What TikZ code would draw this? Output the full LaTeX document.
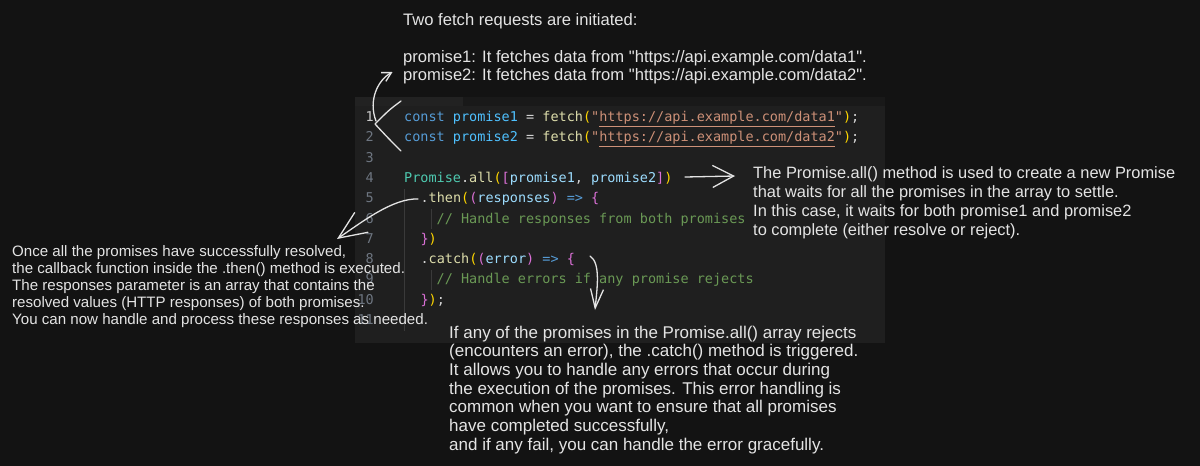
\documentclass[tikz,border=0pt]{standalone}
\usepackage{fontspec}
\setmainfont{Liberation Sans}
\newfontfamily\notefont{Liberation Sans}
\newfontfamily\codefont{DejaVu Sans Mono}
\usetikzlibrary{arrows.meta}
\definecolor{bgc}{HTML}{131313}
\definecolor{panel}{HTML}{1F1F1F}
\definecolor{tabbar}{HTML}{191919}
\definecolor{tabact}{HTML}{222222}
\definecolor{guide}{HTML}{3A3A3A}
\definecolor{kw}{HTML}{569CD6}
\definecolor{cvar}{HTML}{4FC1FF}
\definecolor{var}{HTML}{9CDCFE}
\definecolor{fn}{HTML}{DCDCAA}
\definecolor{str}{HTML}{CE9178}
\definecolor{cls}{HTML}{4EC9B0}
\definecolor{cmt}{HTML}{6A9955}
\definecolor{brA}{HTML}{FFD700}
\definecolor{brB}{HTML}{DA70D6}
\definecolor{plain}{HTML}{D4D4D4}
\definecolor{lnum}{HTML}{6E7681}
\definecolor{lnact}{HTML}{CCCCCC}
\definecolor{ink}{HTML}{E4E4E4}
\newcommand\cc[2]{\textcolor{#1}{#2}}
\begin{document}
\begin{tikzpicture}[x=1pt,y=-1pt,
  code/.style={anchor=base west,inner sep=0pt,font=\codefont\fontsize{13.5}{16}\selectfont},
  lno/.style={anchor=base east,inner sep=0pt,font=\codefont\fontsize{13.5}{16}\selectfont,text=lnum},
  note/.style={anchor=base west,inner sep=0pt,align=left,text=ink},
  hand/.style={draw=ink,line width=1.3pt,line cap=round,line join=round},
]
\useasboundingbox (0,0) rectangle (1200,466);
\fill[bgc] (0,0) rectangle (1200,466);
% editor panel
\fill[panel] (355,97) rectangle (885,343);
\fill[tabbar] (355,97) rectangle (885,106);
\fill[tabact] (355,97) rectangle (463,106);
% indent guides
\draw[guide,line width=0.8pt] (404,189) -- (404,331);
\draw[guide,line width=0.8pt] (431,209) -- (431,229);
\draw[guide,line width=0.8pt] (431,270) -- (431,290);
% line numbers
\node[lno,text=lnact] (n1) at (374,121.5) {1};
\node[lno] (n2) at (374,141.8) {2};
\node[lno] (n3) at (374,162.1) {3};
\node[lno] (n4) at (374,182.4) {4};
\node[lno] (n5) at (374,202.7) {5};
\node[lno] (n6) at (374,223.0) {6};
\node[lno] (n7) at (374,243.3) {7};
\node[lno] (n8) at (374,263.6) {8};
\node[lno] (n9) at (374,283.9) {9};
\node[lno] (n10) at (374,304.2) {10};
\node[lno] (n11) at (374,324.5) {11};
% code
\node[code] (c1) at (404,121.5) {\cc{kw}{const} \cc{cvar}{promise1} \cc{plain}{=} \cc{fn}{fetch}\cc{brA}{(}\cc{str}{"\underline{https://api.example.com/data1}"}\cc{brA}{)}\cc{plain}{;}};
\node[code] (c2) at (404,141.8) {\cc{kw}{const} \cc{cvar}{promise2} \cc{plain}{=} \cc{fn}{fetch}\cc{brA}{(}\cc{str}{"\underline{https://api.example.com/data2}"}\cc{brA}{)}\cc{plain}{;}};
\node[code] (c4) at (404,182.4) {\cc{cls}{Promise}\cc{plain}{.}\cc{fn}{all}\cc{brA}{(}\cc{brB}{[}\cc{var}{promise1}\cc{plain}{,} \cc{var}{promise2}\cc{brB}{]}\cc{brA}{)}};
\node[code] (c5) at (420.3,202.7) {\cc{plain}{.}\cc{fn}{then}\cc{brA}{(}\cc{brB}{(}\cc{var}{responses}\cc{brB}{)} \cc{kw}{=>} \cc{brB}{\{}};
\node[code] (c6) at (436.5,223.0) {\cc{cmt}{// Handle responses from both promises}};
\node[code] (c7) at (420.3,243.3) {\cc{brB}{\}}\cc{brA}{)}};
\node[code] (c8) at (420.3,263.6) {\cc{plain}{.}\cc{fn}{catch}\cc{brA}{(}\cc{brB}{(}\cc{var}{error}\cc{brB}{)} \cc{kw}{=>} \cc{brB}{\{}};
\node[code] (c9) at (436.5,283.9) {\cc{cmt}{// Handle errors if any promise rejects}};
\node[code] (c10) at (420.3,304.2) {\cc{brB}{\}}\cc{brA}{)}\cc{plain}{;}};
% annotations (anchor = baseline of the last line)
\node[note,font=\notefont\fontsize{16.6}{18.5}\selectfont] (ttop) at (403,80.5) {Two fetch requests are initiated:\\[18.5pt]
promise1: It fetches data from "https://api.example.com/data1".\\
promise2: It fetches data from "https://api.example.com/data2".};
\node[note,font=\notefont\fontsize{16.4}{19}\selectfont] (tright) at (753,235) {The Promise.all() method is used to create a new Promise\\
that waits for all the promises in the array to settle.\\
In this case, it waits for both promise1 and promise2\\
to complete (either resolve or reject).};
\node[note,font=\notefont\fontsize{15.1}{17}\selectfont] (tleft) at (12,324.5) {Once all the promises have successfully resolved,\\
the callback function inside the .then() method is executed.\\
The responses parameter is an array that contains the\\
resolved values (HTTP responses) of both promises.\\
You can now handle and process these responses as needed.};
\node[note,font=\notefont\fontsize{17}{18.7}\selectfont] (tbot) at (449,450.2) {If any of the promises in the Promise.all() array rejects\\
(encounters an error), the .catch() method is triggered.\\
It allows you to handle any errors that occur during\\
the execution of the promises. This error handling is\\
common when you want to ensure that all promises\\
have completed successfully,\\
and if any fail, you can handle the error gracefully.};
% connector anchor points
\coordinate (bTop) at (401,101);
\coordinate (bMid) at (375,124);
\coordinate (bBot) at (401,151);
\coordinate (a1s) at (376,121);
\coordinate (a1e) at (392.5,72);
\coordinate (a2s) at (685,177);
\coordinate (a2e) at (735,176);
\coordinate (a3s) at (418,199);
\coordinate (a3e) at (337,239);
\coordinate (a4s) at (590,256);
\coordinate (a4e) at (595,310);
% bracket around lines 1-2 and arrow to the top note
\draw[hand] (bTop) .. controls (389,110) .. (bMid) .. controls (389,139) .. (bBot);
\draw[hand,-{Straight Barb[length=9pt,width=10pt]}] (a1s) .. controls (368,100) and (378,80) .. (a1e);
% Promise.all -> right note
\draw[hand,-{Straight Barb[length=21pt,width=22pt]}] (a2s) -- (a2e);
% .then -> left note
\draw[hand,-{Straight Barb[length=28pt,width=24pt]}] (a3s) .. controls (393,198) and (362,222) .. (a3e);
% .catch -> bottom note
\draw[hand,-{Straight Barb[length=19pt,width=13pt]}] (a4s) .. controls (601,263) and (597,289) .. (a4e);
\end{tikzpicture}
\end{document}
